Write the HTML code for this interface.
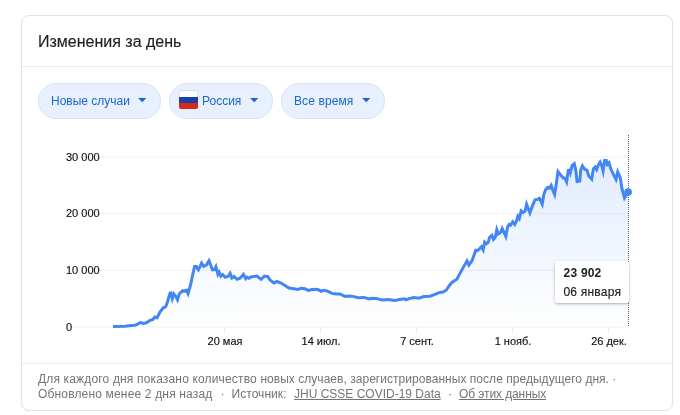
<!DOCTYPE html>
<html lang="ru">
<head>
<meta charset="utf-8">
<title>Изменения за день</title>
<style>
html,body{margin:0;padding:0;background:#fff;}
body{width:680px;height:415px;position:relative;overflow:hidden;font-family:"Liberation Sans",sans-serif;color:#202124;}
.card{position:absolute;left:21px;top:15px;width:650px;height:394px;border:1px solid #dfe1e5;border-radius:8px;background:#fff;}
.title{position:absolute;left:38px;top:32px;font-size:16px;line-height:20px;color:#202124;white-space:nowrap;-webkit-text-stroke:0.15px #202124;}
.hr{position:absolute;left:22px;width:650px;height:1px;background:#ebebeb;}
.pill{position:absolute;top:83px;height:34px;border:1px solid #d2e3fc;border-radius:18px;background:#e8f0fe;color:#1967d2;font-size:12px;line-height:14px;white-space:nowrap;}
.pill span{position:absolute;top:10px;}
.pill svg{position:absolute;top:14px;left:auto;}
.flag{position:absolute;left:8.5px;top:6px;width:19px;height:19px;border-radius:2px;overflow:hidden;background:#fff;box-shadow:inset 0 0 0 1px #e4e6ea;}
.flag b{display:block;}
svg{position:absolute;left:0;top:0;}
svg text{font-family:"Liberation Sans",sans-serif;stroke:#111;stroke-width:0.15px;}
.tip{position:absolute;left:555px;top:261px;width:74px;height:42px;background:#fff;border-radius:2px;box-shadow:0 1px 3px rgba(60,64,67,.3),0 1px 2px rgba(60,64,67,.15);}
.tip .v{position:absolute;left:8.6px;top:4px;font-size:12px;font-weight:bold;line-height:16px;color:#202124;white-space:nowrap;letter-spacing:0.2px;}
.tip .d{position:absolute;left:8.4px;-webkit-text-stroke:0.15px #202124;top:23px;font-size:12px;line-height:16px;color:#202124;white-space:nowrap;letter-spacing:0.22px;}
.foot{position:absolute;left:38px;font-size:12px;line-height:15px;color:#70757a;white-space:nowrap;}
.foot u{color:#70757a;}
</style>
</head>
<body>
<div class="card"></div>
<div class="title">Изменения за день</div>
<div class="hr" style="top:66px"></div>

<div class="pill" style="left:38px;width:121px"><span style="left:12px">Новые случаи</span><svg width="9" height="5" viewBox="0 0 9 5" style="left:99px"><path d="M0 0H8.4L4.2 4.3Z" fill="#1967d2"/></svg></div>
<div class="pill" style="left:169px;width:102px"><div class="flag"><b style="height:7px;background:#fff;box-shadow:inset 0 1px 0 #dcdcdc,inset 1px 0 0 #e6e6e6,inset -1px 0 0 #e6e6e6"></b><b style="height:6px;background:#1c3faa"></b><b style="height:6px;background:#d52b1e"></b></div><span style="left:32px">Россия</span><svg width="9" height="5" viewBox="0 0 9 5" style="left:80px"><path d="M0 0H8.4L4.2 4.3Z" fill="#1967d2"/></svg></div>
<div class="pill" style="left:281px;width:102px"><span style="left:12px;letter-spacing:0.1px">Все время</span><svg width="9" height="5" viewBox="0 0 9 5" style="left:80px"><path d="M0 0H8.4L4.2 4.3Z" fill="#1967d2"/></svg></div>

<svg width="680" height="415" viewBox="0 0 680 415">
  <defs>
    <linearGradient id="g" x1="0" y1="157" x2="0" y2="327" gradientUnits="userSpaceOnUse">
      <stop offset="0" stop-color="#4285f4" stop-opacity="0.16"/>
      <stop offset="1" stop-color="#4285f4" stop-opacity="0"/>
    </linearGradient>
  </defs>
  <g stroke="#f1f1f1" stroke-width="1">
    <line x1="100" y1="157" x2="628" y2="157"/>
    <line x1="100" y1="213.5" x2="628" y2="213.5" stroke="#f3f3f3"/>
    <line x1="100" y1="270.25" x2="628" y2="270.25"/>
    <line x1="72.5" y1="327" x2="628" y2="327"/>
    <line x1="224.5" y1="327" x2="224.5" y2="334" stroke="#eee"/>
    <line x1="320.5" y1="327" x2="320.5" y2="334" stroke="#eee"/>
    <line x1="416.5" y1="327" x2="416.5" y2="334" stroke="#eee"/>
    <line x1="512.5" y1="327" x2="512.5" y2="334" stroke="#eee"/>
    <line x1="608.5" y1="327" x2="608.5" y2="334" stroke="#eee"/>
  </g>
  <g font-size="11" fill="#111">
    <text x="66" y="161">30 000</text>
    <text x="66" y="217">20 000</text>
    <text x="66" y="274">10 000</text>
    <text x="66" y="331">0</text>
  </g>
  <g font-size="11" fill="#111" text-anchor="middle">
    <text x="225" y="345">20 мая</text>
    <text x="321" y="345">14 июл.</text>
    <text x="417" y="345">7 сент.</text>
    <text x="513" y="345">1 нояб.</text>
    <text x="609" y="345">26 дек.</text>
  </g>
  <line x1="628.5" y1="135" x2="628.5" y2="327" stroke="#5f6368" stroke-width="1" stroke-dasharray="1,1" shape-rendering="crispEdges"/>
  <path id="area" fill="url(#g)" d="M113.0,326.5 L125.0,326.2 L131.0,325.6 L135.0,325.2 L138.0,324.0 L140.6,322.5 L143.0,323.4 L146.0,323.1 L150.0,320.4 L152.6,319.6 L155.0,317.1 L157.0,317.9 L159.0,314.0 L160.1,311.9 L163.3,307.8 L165.7,306.6 L167.7,301.3 L168.9,296.9 L170.1,293.1 L170.9,293.1 L172.3,298.6 L173.7,293.9 L175.7,296.4 L177.5,299.8 L179.2,294.0 L182.6,290.6 L184.4,291.2 L186.5,290.3 L188.1,293.7 L190.7,284.5 L192.6,275.0 L194.6,266.6 L196.3,266.6 L198.4,269.8 L201.6,263.1 L203.6,266.4 L206.4,265.0 L209.0,260.6 L212.5,269.9 L214.4,269.7 L215.9,266.7 L217.9,274.4 L219.2,272.1 L220.9,276.2 L222.7,274.6 L225.2,277.3 L228.2,276.2 L230.1,273.3 L231.9,278.1 L234.0,276.4 L237.1,279.3 L240.0,278.2 L243.5,274.4 L245.7,278.6 L247.0,277.1 L249.0,278.3 L251.0,277.0 L254.0,276.4 L257.0,276.1 L261.0,279.3 L264.4,276.1 L267.9,276.7 L270.0,280.0 L274.0,282.9 L277.0,281.5 L281.0,283.0 L285.0,285.4 L289.0,288.0 L294.0,288.8 L298.0,289.4 L301.0,288.2 L305.0,288.8 L308.4,290.5 L312.0,289.6 L316.0,289.2 L319.0,290.0 L321.0,291.3 L324.0,290.4 L327.0,291.0 L332.0,293.4 L336.0,294.0 L340.0,294.0 L345.0,296.4 L350.0,296.0 L354.0,296.6 L358.0,297.8 L364.0,297.4 L369.0,298.9 L372.0,298.2 L376.0,298.4 L382.0,300.0 L388.0,299.4 L395.0,300.4 L400.0,299.4 L404.0,298.7 L406.0,299.9 L409.0,298.6 L414.0,297.6 L419.0,298.2 L424.0,296.4 L430.0,296.2 L435.0,294.4 L439.0,292.6 L443.0,292.0 L446.4,290.0 L449.0,286.0 L452.0,282.4 L454.0,281.0 L456.9,279.3 L458.2,276.6 L463.8,266.4 L467.0,261.0 L468.9,265.0 L472.0,260.7 L475.8,250.2 L477.6,250.6 L479.5,248.8 L481.5,246.7 L483.2,249.8 L484.7,242.1 L486.4,243.7 L488.2,242.4 L489.5,237.5 L491.9,235.3 L493.4,239.3 L495.3,237.2 L496.8,229.6 L498.3,233.9 L500.6,232.5 L502.2,228.5 L504.1,232.6 L505.8,236.3 L507.6,227.0 L509.1,224.5 L510.7,225.0 L512.6,221.8 L514.7,224.5 L516.4,221.3 L517.8,216.3 L519.3,218.6 L521.2,210.8 L523.3,212.4 L525.1,211.2 L526.6,204.3 L528.3,208.8 L529.9,212.9 L532.0,206.9 L535.1,199.6 L536.9,199.5 L539.4,198.3 L540.6,200.7 L542.2,204.2 L544.0,193.8 L545.7,189.5 L547.5,187.4 L549.4,188.1 L551.2,185.4 L553.2,191.3 L554.6,194.5 L556.3,183.8 L558.0,171.6 L560.1,174.4 L563.3,178.1 L565.0,178.3 L566.6,181.8 L568.3,170.4 L569.7,170.1 L570.4,172.5 L572.1,165.6 L574.3,163.7 L575.7,170.0 L577.1,181.4 L579.8,180.9 L580.7,170.0 L582.5,165.9 L584.6,169.3 L586.9,170.1 L588.9,176.3 L591.7,179.1 L593.4,168.8 L595.2,167.2 L596.6,169.6 L598.3,165.0 L600.1,162.1 L601.7,165.6 L603.1,171.0 L604.6,160.4 L606.3,160.4 L607.3,164.3 L608.9,162.8 L610.8,168.8 L614.0,175.7 L616.0,179.4 L617.7,171.9 L619.0,175.0 L620.0,177.0 L620.7,180.0 L621.1,183.0 L621.8,188.0 L624.5,198.0 L628.1,191.9 L628.1,327 L113.0,327 Z"/>
  <path id="line" fill="none" stroke="#4285f4" stroke-width="3" stroke-linejoin="miter" stroke-miterlimit="10" stroke-linecap="butt" d="M113.0,326.5 L125.0,326.2 L131.0,325.6 L135.0,325.2 L138.0,324.0 L140.6,322.5 L143.0,323.4 L146.0,323.1 L150.0,320.4 L152.6,319.6 L155.0,317.1 L157.0,317.9 L159.0,314.0 L160.1,311.9 L163.3,307.8 L165.7,306.6 L167.7,301.3 L168.9,296.9 L170.1,293.1 L170.9,293.1 L172.3,298.6 L173.7,293.9 L175.7,296.4 L177.5,299.8 L179.2,294.0 L182.6,290.6 L184.4,291.2 L186.5,290.3 L188.1,293.7 L190.7,284.5 L192.6,275.0 L194.6,266.6 L196.3,266.6 L198.4,269.8 L201.6,263.1 L203.6,266.4 L206.4,265.0 L209.0,260.6 L212.5,269.9 L214.4,269.7 L215.9,266.7 L217.9,274.4 L219.2,272.1 L220.9,276.2 L222.7,274.6 L225.2,277.3 L228.2,276.2 L230.1,273.3 L231.9,278.1 L234.0,276.4 L237.1,279.3 L240.0,278.2 L243.5,274.4 L245.7,278.6 L247.0,277.1 L249.0,278.3 L251.0,277.0 L254.0,276.4 L257.0,276.1 L261.0,279.3 L264.4,276.1 L267.9,276.7 L270.0,280.0 L274.0,282.9 L277.0,281.5 L281.0,283.0 L285.0,285.4 L289.0,288.0 L294.0,288.8 L298.0,289.4 L301.0,288.2 L305.0,288.8 L308.4,290.5 L312.0,289.6 L316.0,289.2 L319.0,290.0 L321.0,291.3 L324.0,290.4 L327.0,291.0 L332.0,293.4 L336.0,294.0 L340.0,294.0 L345.0,296.4 L350.0,296.0 L354.0,296.6 L358.0,297.8 L364.0,297.4 L369.0,298.9 L372.0,298.2 L376.0,298.4 L382.0,300.0 L388.0,299.4 L395.0,300.4 L400.0,299.4 L404.0,298.7 L406.0,299.9 L409.0,298.6 L414.0,297.6 L419.0,298.2 L424.0,296.4 L430.0,296.2 L435.0,294.4 L439.0,292.6 L443.0,292.0 L446.4,290.0 L449.0,286.0 L452.0,282.4 L454.0,281.0 L456.9,279.3 L458.2,276.6 L463.8,266.4 L467.0,261.0 L468.9,265.0 L472.0,260.7 L475.8,250.2 L477.6,250.6 L479.5,248.8 L481.5,246.7 L483.2,249.8 L484.7,242.1 L486.4,243.7 L488.2,242.4 L489.5,237.5 L491.9,235.3 L493.4,239.3 L495.3,237.2 L496.8,229.6 L498.3,233.9 L500.6,232.5 L502.2,228.5 L504.1,232.6 L505.8,236.3 L507.6,227.0 L509.1,224.5 L510.7,225.0 L512.6,221.8 L514.7,224.5 L516.4,221.3 L517.8,216.3 L519.3,218.6 L521.2,210.8 L523.3,212.4 L525.1,211.2 L526.6,204.3 L528.3,208.8 L529.9,212.9 L532.0,206.9 L535.1,199.6 L536.9,199.5 L539.4,198.3 L540.6,200.7 L542.2,204.2 L544.0,193.8 L545.7,189.5 L547.5,187.4 L549.4,188.1 L551.2,185.4 L553.2,191.3 L554.6,194.5 L556.3,183.8 L558.0,171.6 L560.1,174.4 L563.3,178.1 L565.0,178.3 L566.6,181.8 L568.3,170.4 L569.7,170.1 L570.4,172.5 L572.1,165.6 L574.3,163.7 L575.7,170.0 L577.1,181.4 L579.8,180.9 L580.7,170.0 L582.5,165.9 L584.6,169.3 L586.9,170.1 L588.9,176.3 L591.7,179.1 L593.4,168.8 L595.2,167.2 L596.6,169.6 L598.3,165.0 L600.1,162.1 L601.7,165.6 L603.1,171.0 L604.6,160.4 L606.3,160.4 L607.3,164.3 L608.9,162.8 L610.8,168.8 L614.0,175.7 L616.0,179.4 L617.7,171.9 L619.0,175.0 L620.0,177.0 L620.7,180.0 L621.1,183.0 L621.8,188.0 L624.5,198.0 L628.1,191.9"/>
  <circle cx="628.1" cy="192" r="3.85" fill="#4285f4"/>
</svg>

<div class="tip"><div class="v">23 902</div><div class="d">06 января</div></div>

<div class="hr" style="top:363px"></div>
<div class="foot" style="top:372px"><span style="letter-spacing:0.16px">Для каждого дня показано количество </span><span style="letter-spacing:0.035px">новых случаев, зарегистрированных после предыдущего дня. ·</span></div>
<div class="foot" style="top:387px;letter-spacing:0.167px">Обновлено менее 2 дня назад</div>
<div class="foot" style="top:387px;left:220.5px">·</div>
<div class="foot" style="top:387px;left:231.5px;letter-spacing:0.05px">Источник:</div>
<div class="foot" style="top:387px;left:294px"><u>JHU CSSE COVID-19 Data</u></div>
<div class="foot" style="top:387px;left:448px">·</div>
<div class="foot" style="top:387px;left:459px;letter-spacing:-0.1px"><u>Об этих данных</u></div>
</body>
</html>
